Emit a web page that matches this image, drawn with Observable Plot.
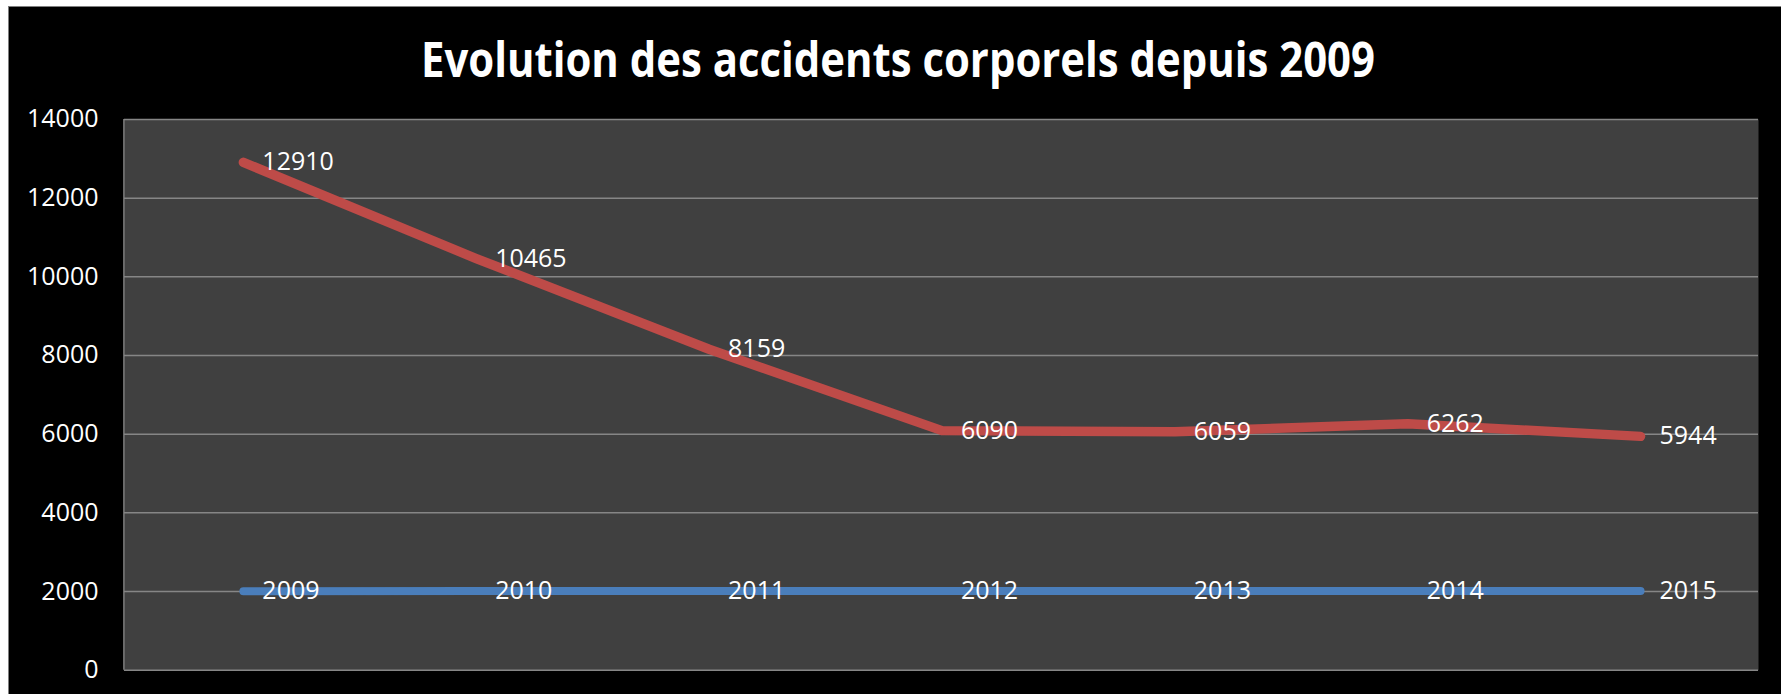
<!DOCTYPE html>
<html>
<head>
<meta charset="utf-8">
<script src="https://cdn.jsdelivr.net/npm/d3@7"></script>
<script src="https://cdn.jsdelivr.net/npm/@observablehq/plot@0.6"></script>
<style>
  html, body { margin: 0; padding: 0; background: #ffffff; width: 1781px; height: 694px; overflow: hidden; }
  #box { position: absolute; left: 8px; top: 6px; width: 1773px; height: 688px; background: #000000; border-left: 1px solid #7f7f7f; border-top: 1px solid #7f7f7f; box-sizing: border-box; }
  #title { position: absolute; left: 0; top: 0; width: 1773px; height: 94px; }
  #title span { position: absolute; left: 889px; top: 28px; font-family: "Open Sans", sans-serif; font-weight: 700; font-size: 48px; line-height: 1; color: #ffffff; white-space: nowrap; transform-origin: center center; }
  #chart { position: absolute; left: 0; top: 94px; }
</style>
</head>
<body>
<div id="box">
  <div id="title"><span id="ttl">Evolution des accidents corporels depuis 2009</span></div>
  <div id="chart"></div>
</div>
<script>
const years = [2009, 2010, 2011, 2012, 2013, 2014, 2015];
const accidents = [12910, 10465, 8159, 6090, 6059, 6262, 5944];
const yTicks = [0, 2000, 4000, 6000, 8000, 10000, 12000, 14000];

const accidentRows = years.map((yr, i) => ({year: String(yr), value: accidents[i]}));
const yearRows = years.map((yr) => ({year: String(yr), value: yr}));

// fit the title width to the reference
const ttl = document.getElementById("ttl");
const w = ttl.getBoundingClientRect().width;
const targetW = 954;
const sx = targetW / w;
ttl.style.transform = `translateX(-50%) scaleX(${sx})`;
ttl.style.left = (897 - 8) + "px";

const leftBorder = (index, scales, values, dims) => {
  const g = document.createElementNS("http://www.w3.org/2000/svg", "line");
  g.setAttribute("x1", dims.marginLeft);
  g.setAttribute("x2", dims.marginLeft);
  g.setAttribute("y1", dims.marginTop);
  g.setAttribute("y2", dims.height - dims.marginBottom);
  g.setAttribute("stroke", "#868686");
  g.setAttribute("stroke-width", 1.5);
  return g;
};

const chart = Plot.plot({
  width: 1773,
  height: 594,
  marginTop: 18,
  marginBottom: 25,
  marginLeft: 115,
  marginRight: 23,
  style: {background: "transparent", color: "#ffffff", fontFamily: "'Open Sans', sans-serif", fontSize: "25px"},
  x: {type: "point", domain: years.map(String), padding: 0.5, axis: null},
  y: {domain: [0, 14000], ticks: yTicks, tickFormat: d => String(d), tickSize: 0, tickPadding: 26, label: null},
  marks: [
    Plot.frame({fill: "#404040", stroke: "none"}),
    Plot.ruleY(yTicks, {stroke: "#868686", strokeWidth: 1.5}),
    leftBorder,
    Plot.line(yearRows, {x: "year", y: "value", stroke: "#4a7ebb", strokeWidth: 8, strokeLinecap: "round"}),
    Plot.line(accidentRows, {x: "year", y: "value", stroke: "#be4b48", strokeWidth: 9.5, strokeLinecap: "round"}),
    Plot.text(yearRows, {x: "year", y: "value", text: d => String(d.value), dx: 19, textAnchor: "start", fill: "#ffffff", fontSize: 25}),
    Plot.text(accidentRows, {x: "year", y: "value", text: d => String(d.value), dx: 19, textAnchor: "start", fill: "#ffffff", fontSize: 25})
  ]
});
document.getElementById("chart").appendChild(chart);
</script>
</body>
</html>
